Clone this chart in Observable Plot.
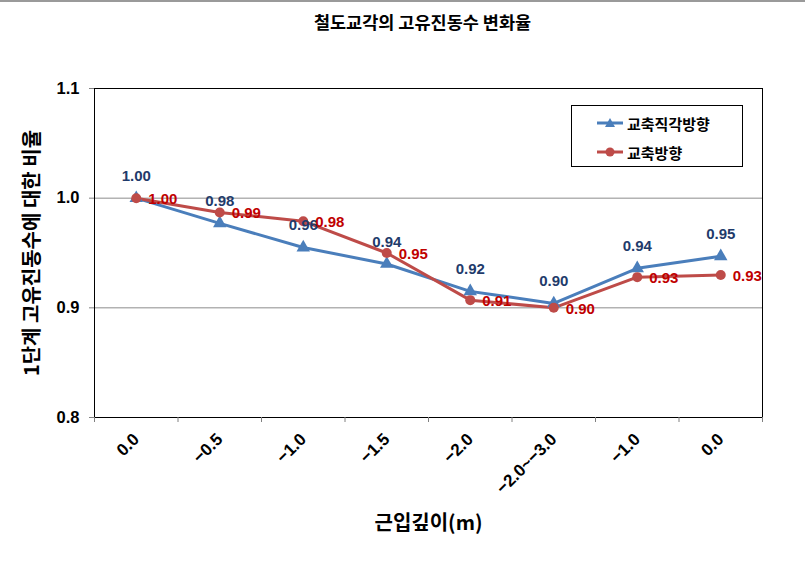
<!DOCTYPE html>
<html>
<head>
<meta charset="utf-8">
<script src="https://cdn.jsdelivr.net/npm/d3@7"></script>
<script src="https://cdn.jsdelivr.net/npm/@observablehq/plot@0.6"></script>
<style>
  html, body { margin: 0; padding: 0; background: #fff; }
  #wrap { position: relative; width: 805px; height: 577px; overflow: hidden; }
  #title { box-sizing: border-box; height: 40px; border-top: 2px solid #9a9a9a; text-align: center;
           font-family: "Noto Sans CJK KR", sans-serif; font-weight: 700; font-size: 17.5px; padding-top: 7px; padding-left: 40px; }
  #legend { position: absolute; left: 571px; top: 105px; width: 170px; height: 60px; border: 1px solid #000; background: #fff;
            font-family: "Noto Sans CJK KR", sans-serif; font-weight: 700; font-size: 15px; }
  .item { position: absolute; left: 24px; height: 20px; display: flex; align-items: center; }
  .item svg { margin-right: 3px; }
  #ytitle { position: absolute; left: 30px; top: 253px; transform: translate(-50%, -50%) rotate(-90deg);
            white-space: nowrap; font-family: "Noto Sans CJK KR", sans-serif; font-weight: 700; font-size: 20px; }
</style>
</head>
<body>
<div id="wrap">
  <div id="title">철도교각의 고유진동수 변화율</div>
  <div id="chart"></div>
  <div id="ytitle"></div>
  <div id="legend">
    <div class="item" style="top:7px"><svg width="28" height="14"><line x1="1" y1="7" x2="27" y2="7" stroke="#4a7ebb" stroke-width="3"/><path d="M14,2 L19,11 L9,11 Z" fill="#4a7ebb"/></svg><span id="lg1"></span></div>
    <div class="item" style="top:36px"><svg width="28" height="14"><line x1="1" y1="7" x2="27" y2="7" stroke="#be4b48" stroke-width="3"/><circle cx="14" cy="7" r="4.5" fill="#be4b48"/></svg><span id="lg2"></span></div>
  </div>
</div>
<script>
const categories = ["0.0", "−0.5", "−1.0", "−1.5", "−2.0", "−2.0~−3.0", "−1.0", "0.0"];
const blueName = "교축직각방향";
const blueValues = [1.000, 0.977, 0.955, 0.940, 0.915, 0.904, 0.936, 0.947];
const blueLabels = ["1.00", "0.98", "0.96", "0.94", "0.92", "0.90", "0.94", "0.95"];
const redName = "교축방향";
const redValues = [1.000, 0.987, 0.979, 0.950, 0.907, 0.900, 0.928, 0.930];
const redLabels = ["1.00", "0.99", "0.98", "0.95", "0.91", "0.90", "0.93", "0.93"];
const yTicks = [0.8, 0.9, 1.0, 1.1];
const gridValues = [0.9, 1.0];
const xTitle = "근입깊이(m)";
const yTitle = "1단계 고유진동수에 대한 비율";

document.getElementById("ytitle").textContent = yTitle;
document.getElementById("lg1").textContent = blueName;
document.getElementById("lg2").textContent = redName;

const blue = categories.map((c, i) => ({i, v: blueValues[i], label: blueLabels[i]}));
const red = categories.map((c, i) => ({i, v: redValues[i], label: redLabels[i]}));
const boundaries = d3.range(categories.length + 1).map(k => k - 0.5);
const numFont = "'Liberation Sans', Arial, sans-serif";
const krFont = "'Noto Sans CJK KR', sans-serif";

const chart = Plot.plot({
  width: 805,
  height: 537,
  marginLeft: 94,
  marginRight: 43,
  marginTop: 48,
  marginBottom: 160,
  style: {fontFamily: numFont, background: "#fff", fontSize: "15px", fontWeight: "bold", color: "#000"},
  x: {type: "linear", domain: [-0.5, categories.length - 0.5]},
  y: {domain: [0.8, 1.1]},
  marks: [
    Plot.ruleY(gridValues, {stroke: "#8c8c8c", strokeWidth: 1}),
    Plot.frame({stroke: "#000", strokeWidth: 1}),
    Plot.axisY({ticks: yTicks, tickFormat: d => d.toFixed(1), tickSize: 5, tickPadding: 10, stroke: "#808080",
                fontSize: 16.5, fontWeight: "bold", fill: "#000", label: null}),
    Plot.axisX({ticks: boundaries, tickFormat: () => "", tickSize: 5, stroke: "#808080", label: null}),
    Plot.axisX({ticks: d3.range(categories.length), tickFormat: i => categories[i], tickSize: 0,
                tickPadding: 19, tickRotate: -45, fontSize: 17, fontWeight: "bold", fill: "#000", label: null}),
    Plot.line(blue, {x: "i", y: "v", stroke: "#4a7ebb", strokeWidth: 3}),
    Plot.line(red, {x: "i", y: "v", stroke: "#be4b48", strokeWidth: 3}),
    Plot.dot(blue, {x: "i", y: "v", symbol: "triangle", r: 5, fill: "#4a7ebb"}),
    Plot.dot(red, {x: "i", y: "v", r: 5, fill: "#be4b48"}),
    Plot.text(blue, {x: "i", y: "v", text: "label", dy: -22, fill: "#1f3b6b", fontSize: 15, fontWeight: "bold"}),
    Plot.text(red, {x: "i", y: "v", text: "label", dx: 12, dy: 1, textAnchor: "start", fill: "#c00000", fontSize: 15, fontWeight: "bold"}),
    Plot.text([xTitle], {frameAnchor: "bottom", dy: 112, fontSize: 20, fontWeight: "bold",
                         fontFamily: krFont, fill: "#000"})
  ]
});
d3.select(chart).selectAll('g[aria-label="y-axis tick label"] text').style("font-size", "16.5px");
d3.select(chart).selectAll('g[aria-label="x-axis tick label"] text').style("font-size", "17px");
document.getElementById("chart").appendChild(chart);
</script>
</body>
</html>
